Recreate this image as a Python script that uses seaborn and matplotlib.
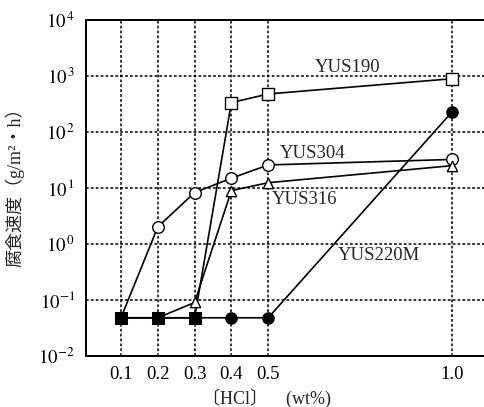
import numpy as np
import pandas as pd
import matplotlib
matplotlib.use("Agg")
import matplotlib.pyplot as plt
import seaborn as sns
from matplotlib.ticker import FixedLocator, NullLocator, FixedFormatter

# ---- data ----
hcl = [0.1, 0.2, 0.3, 0.4, 0.5, 1.0]
yus190 = [0.048, 0.048, 0.048, 330, 470, 880]
yus304 = [0.048, 2.0, 8.2, 14.8, 25.5, 32]
yus316 = [0.048, 0.048, 0.09, 8.9, 12.3, 24.8]
yus220m = [0.048, 0.048, 0.048, 0.048, 0.048, 227]
series_names = ["YUS190", "YUS304", "YUS316", "YUS220M"]
base_value = 0.048
x_ticks = [0.1, 0.2, 0.3, 0.4, 0.5, 1.0]
x_ticklabels = ["0.1", "0.2", "0.3", "0.4", "0.5", "1.0"]
y_ticks = [1e-2, 1e-1, 1e0, 1e1, 1e2, 1e3, 1e4]
y_ticklabels = [r"$10^{-2}$", r"$10^{-1}$", r"$10^{\,0}$", r"$10^{\,1}$",
                r"$10^{\,2}$", r"$10^{\,3}$", r"$10^{\,4}$"]
label_pos = {"YUS190": (0.715, 1400), "YUS304": (0.62, 40),
             "YUS316": (0.60, 6.3), "YUS220M": (0.80, 0.61)}

sns.set_theme(style="white")
plt.rcParams["font.family"] = ["Liberation Serif", "Noto Sans CJK JP"]
plt.rcParams["mathtext.fontset"] = "stix"

df = pd.DataFrame({"HCl": hcl, "YUS190": yus190, "YUS304": yus304,
                   "YUS316": yus316, "YUS220M": yus220m})
long = df.melt(id_vars="HCl", var_name="steel", value_name="rate")

# points shared by >=2 series at the base level are drawn as filled squares
cnt = long[long.rate == base_value].groupby("HCl").size()
shared_x = cnt[cnt >= 2].index.tolist()
long["shared"] = long.apply(lambda r: (r.rate == base_value) and (r.HCl in shared_x), axis=1)

fig = plt.figure(figsize=(4.85, 4.07), dpi=100)
ax = fig.add_axes([86 / 485, 1 - 356 / 407, 1 - 86 / 485, (356 - 19.5) / 407])

styles = {"YUS190": dict(marker="s", fc="white", s=80),
          "YUS304": dict(marker="o", fc="white", s=70),
          "YUS316": dict(marker="^", fc="white", s=55),
          "YUS220M": dict(marker="o", fc="black", s=65)}

for name in series_names:
    sub = long[long.steel == name]
    sns.lineplot(data=sub, x="HCl", y="rate", color="black", lw=1.2, ax=ax,
                 zorder=3, estimator=None, sort=False)
    pts = sub[~sub.shared]
    st = styles[name]
    sns.scatterplot(data=pts, x="HCl", y="rate", marker=st["marker"], s=st["s"],
                    facecolor=st["fc"], edgecolor="black", linewidth=1.0,
                    ax=ax, zorder=4)

shared = long[long.shared].drop_duplicates("HCl")
sns.scatterplot(data=shared, x="HCl", y="rate", marker="s", s=85,
                facecolor="black", edgecolor="black", ax=ax, zorder=5)

for name in series_names:
    x, y = label_pos[name]
    ax.text(x, y, name, fontsize=13.5, ha="center", va="center", zorder=6)

ax.set_yscale("log")
ax.set_xlim(0.005, 1.089)
ax.set_ylim(1e-2, 1e4)
ax.xaxis.set_major_locator(FixedLocator(x_ticks))
ax.xaxis.set_major_formatter(FixedFormatter(x_ticklabels))
ax.yaxis.set_major_locator(FixedLocator(y_ticks))
ax.yaxis.set_major_formatter(FixedFormatter(y_ticklabels))
ax.yaxis.set_minor_locator(NullLocator())
ax.tick_params(axis="both", length=0, labelsize=13.5, colors="black")
ax.tick_params(axis="x", pad=7)
ax.tick_params(axis="y", pad=8)
ax.set_xlabel("")
ax.set_ylabel("")

ax.grid(True, which="major", color="black", linestyle=(0, (1.8, 1.4)), lw=1.1)
for side in ["left", "bottom", "top"]:
    ax.spines[side].set_visible(True)
    ax.spines[side].set_color("black")
    ax.spines[side].set_linewidth(1.4)
ax.spines["right"].set_visible(False)

fig.text(267 / 485, 1 - 398 / 407, "〔HCl〕　(wt%)", fontsize=13,
         ha="center", va="center")
fig.text(15 / 485, 1 - 183 / 407, "腐食速度（g/m²・h）", fontsize=13,
         rotation=90, ha="center", va="center")

fig.savefig("out.png", dpi=100)
